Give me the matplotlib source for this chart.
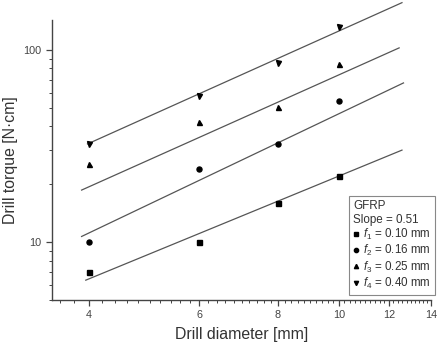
import matplotlib
matplotlib.use("Agg")
import matplotlib.pyplot as plt
import matplotlib.ticker as mticker
import numpy as np

plt.rcParams['font.family'] = ['Liberation Sans', 'DejaVu Sans']
plt.rcParams['mathtext.fontset'] = 'custom'
plt.rcParams['mathtext.rm'] = 'Liberation Sans'
plt.rcParams['mathtext.it'] = 'Liberation Sans:italic'

# measured data
diameter = [4, 6, 8, 10]
torque_f1 = [7.0, 10.0, 16.0, 22.0]
torque_f2 = [10.0, 24.0, 32.4, 54.0]
torque_f3 = [25.5, 42.0, 50.5, 84.5]
torque_f4 = [32.4, 57.6, 85.6, 131.0]

# fitted lines (x start, x end, y start, y end)
fit_x = [[3.96, 12.59], [3.90, 12.66], [3.90, 12.46], [3.985, 12.59]]
fit_y = [[6.34, 30.1], [10.7, 67.3], [18.65, 102.4], [32.4, 176.0]]

labels = ['$f_1$ = 0.10 mm', '$f_2$ = 0.16 mm', '$f_3$ = 0.25 mm', '$f_4$ = 0.40 mm']
markers = ['s', 'o', '^', 'v']

fig = plt.figure(figsize=(4.44, 3.5), dpi=100)
ax = fig.add_axes([52/444, 50/350, (431-52)/444, (300-20)/350])

series = [torque_f1, torque_f2, torque_f3, torque_f4]
for i in range(4):
    ax.plot(fit_x[i], fit_y[i], color='#555555', lw=0.9, clip_on=False, zorder=2)
    ax.plot(diameter, series[i], ls='none', marker=markers[i], color='black',
            ms=3.6, label=labels[i], zorder=3)

ax.set_xscale('log')
ax.set_yscale('log')
ax.set_xlim(3.5, 14)
ax.set_ylim(5, 143)

ax.xaxis.set_major_locator(mticker.FixedLocator([4, 6, 8, 10, 12, 14]))
ax.xaxis.set_major_formatter(mticker.FixedFormatter(['4', '6', '8', '10', '12', '14']))
ax.xaxis.set_minor_locator(mticker.FixedLocator(np.arange(3.6, 14.01, 0.2)))
ax.xaxis.set_minor_formatter(mticker.NullFormatter())

ax.yaxis.set_major_locator(mticker.FixedLocator([10, 100]))
ax.yaxis.set_major_formatter(mticker.FixedFormatter(['10', '100']))
ax.yaxis.set_minor_locator(mticker.LogLocator(base=10, subs=np.arange(2, 10)))
ax.yaxis.set_minor_formatter(mticker.NullFormatter())

for side in ['top', 'right']:
    ax.spines[side].set_visible(False)
for side in ['left', 'bottom']:
    ax.spines[side].set_color('#444444')
    ax.spines[side].set_linewidth(1.0)

ax.tick_params(which='major', direction='out', length=4.5, width=0.9,
               colors='#444444', labelsize=7.8, pad=3)
ax.tick_params(which='minor', direction='out', length=2.5, width=0.7, colors='#444444')

ax.set_xlabel('Drill diameter [mm]', fontsize=11.4, color='#333333', labelpad=5)
ax.set_ylabel('Drill torque [N·cm]', fontsize=11.4, color='#333333', labelpad=4)

leg = ax.legend(loc='lower right', bbox_to_anchor=(435/444, 55/350),
                bbox_transform=fig.transFigure, borderaxespad=0,
                title='GFRP\nSlope = 0.51', alignment='left',
                fontsize=8.4, title_fontsize=8.4, fancybox=False, framealpha=1,
                edgecolor='#888888', handlelength=0.5, handletextpad=0.35,
                labelspacing=0.1, markerscale=0.85, borderpad=0.35)
leg.get_frame().set_linewidth(0.8)
for t in leg.get_texts():
    t.set_color('#333333')
leg.get_title().set_color('#333333')

fig.savefig('out.png', dpi=100)
